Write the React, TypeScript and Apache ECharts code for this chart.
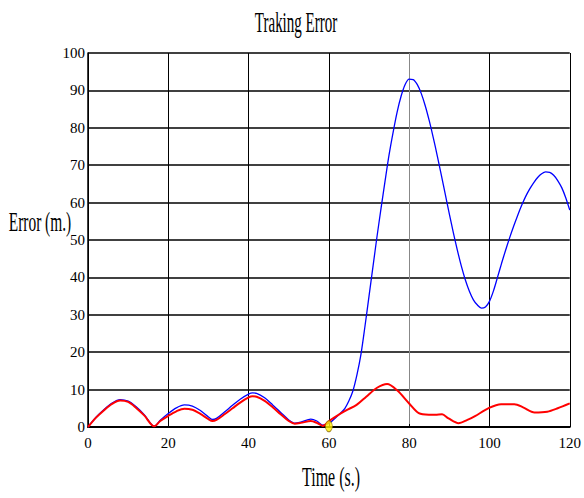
import React, { useEffect, useRef } from "react";
import * as echarts from "echarts";

const chartTitle = "Traking Error";
const xAxisName = "Time (s.)";
const yAxisName = "Error (m.)";

const blueTime = [0, 2, 4, 6, 8, 10, 12, 14, 16.5, 18, 20, 22, 24, 26, 28, 30, 31, 32, 34, 36, 38, 40, 41, 42, 44, 46, 48, 50, 51.5, 53, 55.5, 57, 58.5, 60, 61, 62, 63, 64, 65, 66, 67, 68, 69, 70, 71, 72, 73, 74, 75, 76, 77, 78, 79, 80, 81, 82, 83, 84, 85, 86, 87, 88, 89, 90, 91, 92, 93, 94, 95, 96, 97, 98, 99, 100, 101, 102, 103, 104, 105, 106, 107, 108, 109, 110, 111, 112, 113, 114, 115, 116, 117, 118, 119, 120];
const blueError = [0, 2.6, 4.7, 6.4, 7.3, 6.9, 5.4, 3.3, 0.2, 1.8, 3.6, 5.1, 5.9, 5.6, 4.4, 2.7, 2.0, 2.3, 4.0, 5.8, 7.5, 8.8, 9.1, 9.0, 7.8, 5.9, 3.9, 1.9, 1.0, 1.3, 2.1, 1.6, 0.5, 1.0, 1.8, 2.8, 3.8, 5.0, 7.0, 9.7, 14, 19.5, 27, 35, 43, 51, 58.5, 65.8, 72.8, 78.8, 84.2, 88.5, 91.6, 93.0, 92.9, 91.6, 89.2, 85.9, 81.9, 77.4, 72.5, 67.4, 62.2, 57.0, 52.0, 47.3, 43.0, 39.3, 36.3, 34.0, 32.6, 31.8, 32.1, 33.6, 36.4, 40.0, 43.7, 47.2, 50.5, 53.6, 56.5, 59.2, 61.6, 63.6, 65.3, 66.7, 67.7, 68.2, 68.1, 67.3, 65.9, 64.0, 61.3, 58.0];

const redTime = [0, 2, 4, 6, 8, 10, 12, 14, 16.5, 18, 20, 22, 24, 26, 28, 30, 31, 32, 34, 36, 38, 40, 41, 42, 44, 46, 48, 50, 51.5, 53, 55.5, 57, 58.5, 60.3, 62, 64.4, 66.9, 69.3, 72, 74.5, 77, 80, 82.4, 84.9, 86.5, 88.2, 89.8, 92.3, 94.5, 96.4, 99.7, 102.9, 106.2, 108.5, 111.2, 114.4, 117, 120];
const redError = [0, 2.5, 4.5, 6.2, 7.1, 6.7, 5.1, 3.1, 0.2, 1.6, 3.0, 4.2, 4.9, 4.6, 3.5, 2.1, 1.6, 1.9, 3.4, 5.0, 6.6, 7.9, 8.2, 8.1, 7.0, 5.3, 3.4, 1.6, 0.9, 1.1, 1.6, 1.1, 0.3, 1.8, 3.0, 4.5, 5.9, 8.1, 10.5, 11.5, 9.8, 6.3, 3.7, 3.3, 3.3, 3.4, 2.3, 1.0, 1.9, 2.9, 5.0, 6.1, 6.1, 5.2, 3.9, 4.1, 5.0, 6.3];

const markerPoint = [60, 0.2];

const xTicks = { min: 0, max: 120, interval: 20 };
const yTicks = { min: 0, max: 100, interval: 10 };

export default function App() {
  const ref = useRef<HTMLDivElement>(null);
  useEffect(() => {
    if (!ref.current) return;
    const chart = echarts.init(ref.current, null, { renderer: "svg" });
    const font = "'Liberation Serif', 'Times New Roman', serif";
    chart.setOption({
      animation: false,
      backgroundColor: "#ffffff",
      grid: { left: 88, right: 8, top: 53, bottom: 71, containLabel: false },
      graphic: [
        {
          type: "text",
          x: 296,
          y: 22,
          scaleX: 0.5,
          style: { text: chartTitle, font: `30px ${font}`, fill: "#000", textAlign: "center", textVerticalAlign: "middle" },
        },
        {
          type: "text",
          x: 40,
          y: 222,
          scaleX: 0.55,
          style: { text: yAxisName, font: `28px ${font}`, fill: "#000", textAlign: "center", textVerticalAlign: "middle" },
        },
        {
          type: "text",
          x: 331,
          y: 477,
          scaleX: 0.57,
          style: { text: xAxisName, font: `28px ${font}`, fill: "#000", textAlign: "center", textVerticalAlign: "middle" },
        },
      ],
      xAxis: {
        type: "value",
        min: xTicks.min,
        max: xTicks.max,
        interval: xTicks.interval,
        axisLine: { show: true, onZero: false, lineStyle: { color: "#000", width: 2 } },
        axisTick: { show: true, inside: true, length: 3, lineStyle: { color: "#000" } },
        axisLabel: { color: "#000", fontFamily: font, fontSize: 15, margin: 8 },
        splitLine: { show: true, lineStyle: { color: ["#000", "#000", "#000", "#000", "#888", "#000", "#000"], width: 1 } },
      },
      yAxis: {
        type: "value",
        min: yTicks.min,
        max: yTicks.max,
        interval: yTicks.interval,
        axisLine: { show: true, onZero: false, lineStyle: { color: "#000", width: 1.5 } },
        axisTick: { show: false },
        axisLabel: { color: "#000", fontFamily: font, fontSize: 15, margin: 3 },
        splitLine: { show: true, lineStyle: { color: "#000", width: 1.5 } },
      },
      series: [
        {
          type: "line",
          data: blueTime.map((t, i) => [t, blueError[i]]),
          smooth: 0.3,
          showSymbol: false,
          lineStyle: { color: "#0000ff", width: 1.3 },
          z: 3,
        },
        {
          type: "line",
          data: redTime.map((t, i) => [t, redError[i]]),
          smooth: 0.3,
          showSymbol: false,
          lineStyle: { color: "#ff0000", width: 2 },
          z: 4,
        },
        {
          type: "scatter",
          data: [markerPoint],
          symbol: "circle",
          symbolSize: [7, 11],
          itemStyle: { color: "#ffee00", borderColor: "#886600", borderWidth: 0.8 },
          z: 5,
        },
      ],
    });
    return () => chart.dispose();
  }, []);
  return <div ref={ref} style={{ width: 584, height: 498, position: "absolute", left: 0, top: 0 }} />;
}
